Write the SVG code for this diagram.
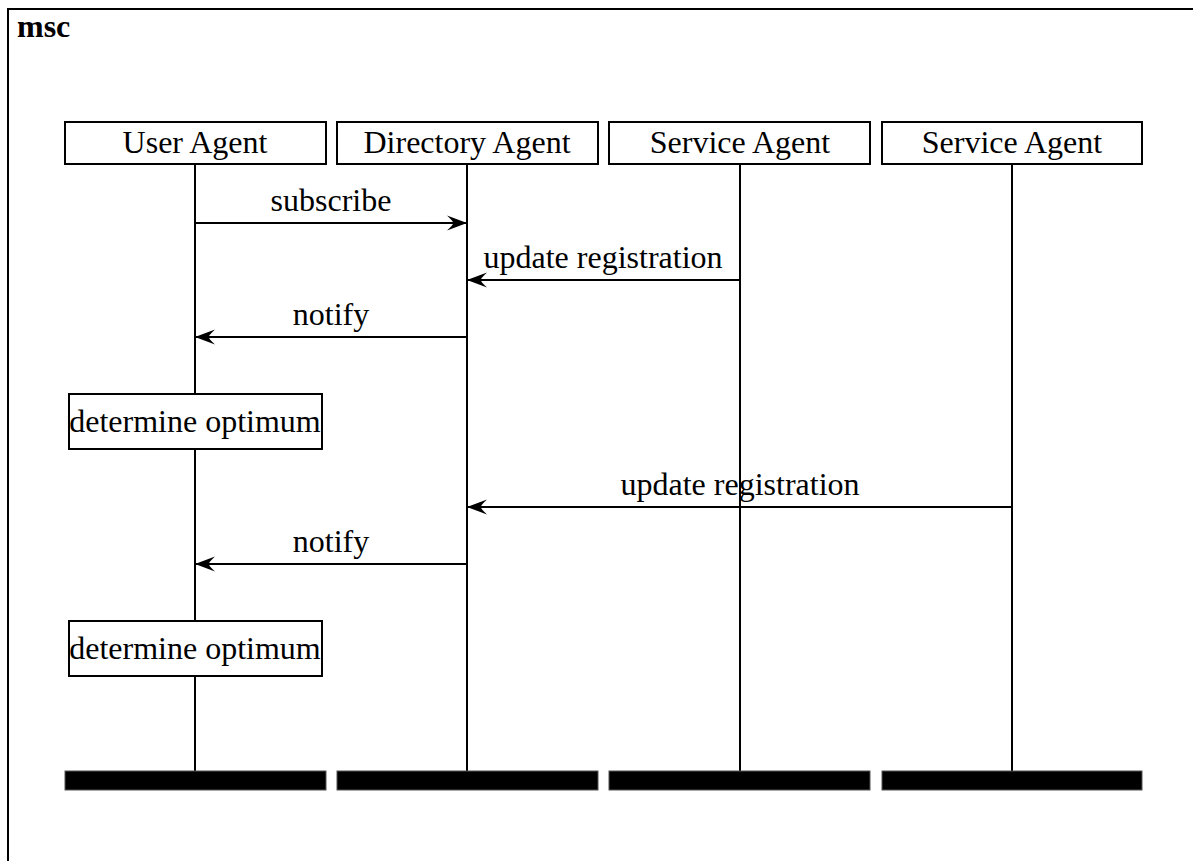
<svg xmlns="http://www.w3.org/2000/svg" width="1193" height="861" viewBox="0 0 1193 861">
  <style>
    text { font-family: "Liberation Serif", "Times New Roman", serif; fill: #000; }
    .lbl { font-size: 32px; text-anchor: middle; }
    .title { font-size: 32px; font-weight: bold; }
    .box { fill: #fff; stroke: #000; stroke-width: 2; }
    .life { stroke: #000; stroke-width: 2; fill: none; }
    .msg { stroke: #000; stroke-width: 2; fill: none; marker-end: url(#arrow); }
    .end { fill: #000; stroke: #555; stroke-width: 1; }
  </style>
  <defs>
    <marker id="arrow" markerUnits="userSpaceOnUse" markerWidth="24" markerHeight="18" refX="22" refY="9" orient="auto">
      <path d="M22,9 L2,1.5 Q9,8 8,9 Q9,10 2,16.5 Z" fill="#000"/>
    </marker>
  </defs>

  <rect width="1193" height="861" fill="#fff"/>

  <!-- diagram frame (runs past the canvas on the right and bottom) -->
  <g id="frame">
    <rect x="8" y="9" width="1400" height="1100" fill="none" stroke="#000" stroke-width="2"/>
    <text class="title" x="17" y="37">msc</text>
  </g>

  <!-- lifelines -->
  <g id="lifelines">
    <line class="life" x1="195" y1="164" x2="195" y2="771"/>
    <line class="life" x1="467" y1="164" x2="467" y2="771"/>
    <line class="life" x1="740" y1="164" x2="740" y2="771"/>
    <line class="life" x1="1012" y1="164" x2="1012" y2="771"/>
  </g>

  <g id="user-agent">
    <rect class="box" x="65" y="122" width="261" height="42"/>
    <text class="lbl" x="195" y="153">User Agent</text>
    <rect class="end" x="65" y="771" width="261" height="19"/>
  </g>
  <g id="directory-agent">
    <rect class="box" x="337" y="122" width="261" height="42"/>
    <text class="lbl" x="467" y="153">Directory Agent</text>
    <rect class="end" x="337" y="771" width="261" height="19"/>
  </g>
  <g id="service-agent-1">
    <rect class="box" x="609" y="122" width="261" height="42"/>
    <text class="lbl" x="740" y="153">Service Agent</text>
    <rect class="end" x="609" y="771" width="261" height="19"/>
  </g>
  <g id="service-agent-2">
    <rect class="box" x="882" y="122" width="260" height="42"/>
    <text class="lbl" x="1012" y="153">Service Agent</text>
    <rect class="end" x="882" y="771" width="260" height="19"/>
  </g>

  <!-- local actions -->
  <g id="action-1">
    <rect class="box" x="69" y="394" width="253" height="55"/>
    <text class="lbl" x="195" y="432">determine optimum</text>
  </g>
  <g id="action-2">
    <rect class="box" x="69" y="621" width="253" height="55"/>
    <text class="lbl" x="195" y="659">determine optimum</text>
  </g>

  <!-- messages -->
  <g id="connectors">
    <line class="msg" x1="195" y1="223" x2="467" y2="223"/>
    <text class="lbl" x="331" y="211">subscribe</text>

    <line class="msg" x1="740" y1="280" x2="467" y2="280"/>
    <text class="lbl" x="603" y="268">update registration</text>

    <line class="msg" x1="467" y1="337" x2="195" y2="337"/>
    <text class="lbl" x="331" y="325">notify</text>

    <line class="msg" x1="1012" y1="507" x2="467" y2="507"/>
    <text class="lbl" x="740" y="495">update registration</text>

    <line class="msg" x1="467" y1="564" x2="195" y2="564"/>
    <text class="lbl" x="331" y="552">notify</text>
  </g>
</svg>
